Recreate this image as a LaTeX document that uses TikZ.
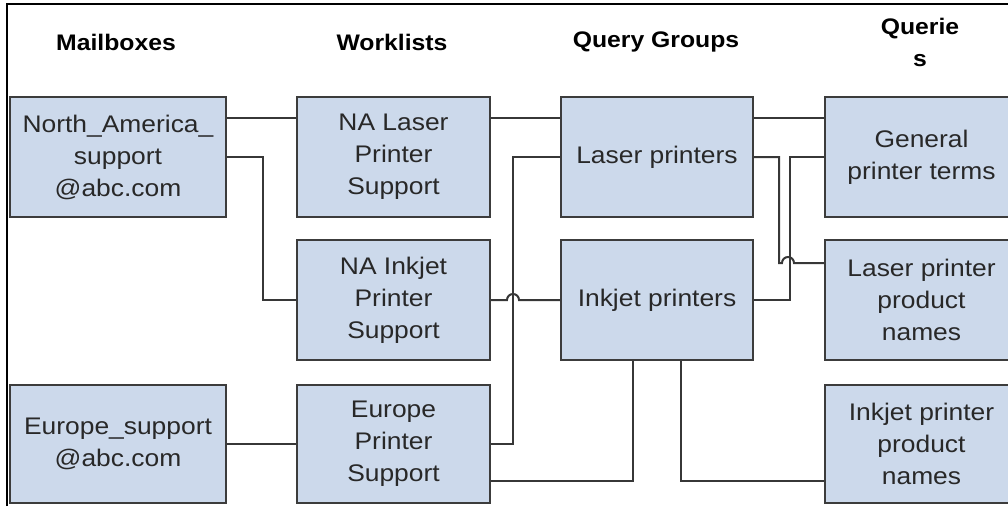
\documentclass[tikz,border=0pt]{standalone}
\usepackage{fontspec}
\setmainfont{Liberation Sans}[FakeStretch=1.1]
\definecolor{boxfill}{RGB}{204,217,235}
\definecolor{boxline}{RGB}{60,60,60}
\definecolor{linec}{RGB}{55,55,55}
\definecolor{txt}{RGB}{40,40,40}
\begin{document}
\begin{tikzpicture}[x=1pt,y=-1pt,
  box/.style={draw=boxline, line width=2pt, fill=boxfill, minimum width=193pt,
    minimum height=120pt, align=center, inner sep=0pt,
    font=\fontsize{24}{32}\selectfont, text=txt},
  conn/.style={draw=linec, line width=2pt},
  head/.style={font=\bfseries\fontsize{22.5}{32}\selectfont, align=center, text=black}]
\useasboundingbox (0,0) rectangle (1008,506);
\draw[line width=1.5pt] (7,506) -- (7,4) -- (1008,4);

% headers
\node[head] (h1) at (116,42) {Mailboxes};
\node[head] (h2) at (392,42) {Worklists};
\node[head] (h3) at (656,42) {Query Groups};
\node[head] (h4) at (920,42) {Querie\\s};

% boxes
\node[box, minimum width=216pt] (mna) at (118,157) {North\_America\_\\support\\@abc.com};
\node[box, minimum width=216pt, minimum height=118pt] (meu) at (118,444) {Europe\_support\\@abc.com};
\node[box] (wla) at (393.5,157) {NA Laser\\Printer\\Support};
\node[box] (win) at (393.5,300) {NA Inkjet\\Printer\\Support};
\node[box, minimum height=118pt] (weu) at (393.5,444) {Europe\\Printer\\Support};
\node[box, minimum width=192pt] (qla) at (657,157) {Laser printers};
\node[box, minimum width=192pt] (qin) at (657,300) {Inkjet printers};
\node[box] (qge) at (921.5,157) {General\\printer terms};
\node[box] (qlp) at (921.5,300) {Laser printer\\product\\names};
\node[box, minimum height=118pt] (qip) at (921.5,444) {Inkjet printer\\product\\names};

% connectors
\draw[conn] ([yshift=39pt]mna.east) -- ([yshift=39pt]wla.west);
\draw[conn] (mna.east) -- ++(36,0) |- (win.west);
\draw[conn] ([yshift=39pt]wla.east) -- ([yshift=39pt]qla.west);
\draw[conn] ([yshift=39pt]qla.east) -- ([yshift=39pt]qge.west);
\draw[conn] (weu.east) -- ++(22,0) |- (qla.west);
\draw[conn] (win.east) -- ([xshift=16pt]win.east)
  arc[start angle=180, end angle=0, radius=6pt] -- (qin.west);
\draw[conn] (qla.east) -- ++(25,0) |- ([xshift=-42pt,yshift=37pt]qlp.west)
  arc[start angle=180, end angle=0, radius=6pt] -- ([yshift=37pt]qlp.west);
\draw[conn] (qin.east) -- ++(36,0) |- (qge.west);
\draw[conn] ([xshift=-24pt]qin.south) |- ([yshift=-37pt]weu.east);
\draw[conn] ([xshift=24pt]qin.south) |- ([yshift=-37pt]qip.west);
\draw[conn] (meu.east) -- (weu.west);
\end{tikzpicture}
\end{document}
